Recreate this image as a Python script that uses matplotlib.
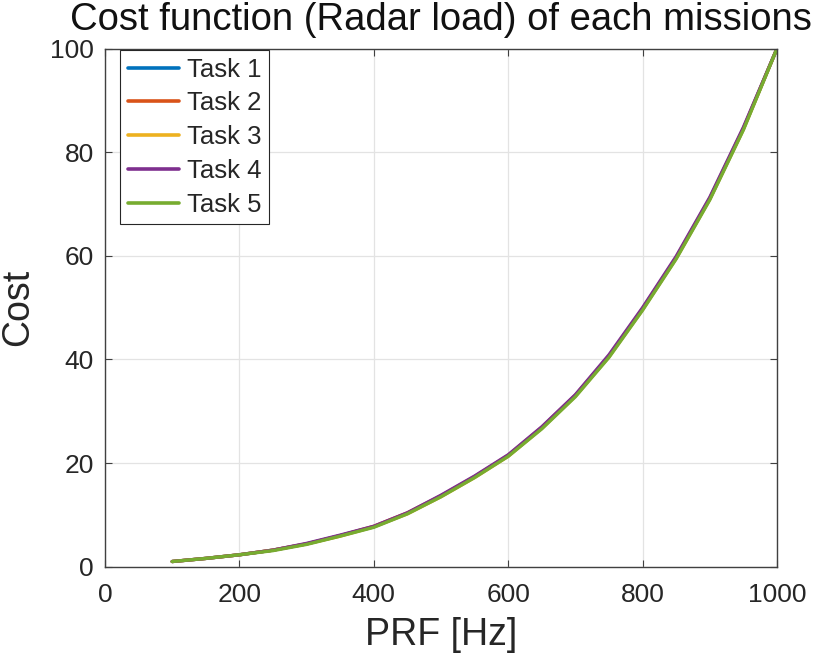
import matplotlib
matplotlib.use("Agg")
import matplotlib.pyplot as plt

plt.rcParams['font.family'] = ['Liberation Sans', 'DejaVu Sans']

prf = [100, 150, 200, 250, 300, 350, 400, 450, 500, 550, 600, 650, 700, 750, 800, 850, 900, 950, 1000]
task1 = [1.0, 1.6, 2.3, 3.2, 4.4, 6.0, 7.7, 10.3, 13.6, 17.3, 21.4, 26.8, 33.0, 40.6, 49.7, 59.6, 71.0, 84.5, 100.0]
task2 = [1.0, 1.6, 2.3, 3.2, 4.4, 6.0, 7.8, 10.4, 13.7, 17.4, 21.5, 26.9, 33.1, 40.7, 49.8, 59.7, 71.1, 84.6, 100.0]
task3 = [1.0, 1.6, 2.3, 3.2, 4.4, 5.9, 7.7, 10.2, 13.5, 17.2, 21.3, 26.7, 32.9, 40.5, 49.6, 59.5, 70.9, 84.4, 100.0]
task4 = [1.0, 1.6, 2.3, 3.2, 4.5, 6.1, 7.8, 10.4, 13.8, 17.5, 21.6, 27.0, 33.2, 40.9, 50.0, 59.9, 71.3, 84.8, 100.0]
task5 = [1.0, 1.6, 2.3, 3.1, 4.3, 5.9, 7.6, 10.2, 13.5, 17.2, 21.3, 26.6, 32.8, 40.4, 49.5, 59.4, 70.8, 84.3, 100.0]
labels = ["Task 1", "Task 2", "Task 3", "Task 4", "Task 5"]
colors = ["#0072BD", "#D95319", "#EDB120", "#7E2F8E", "#77AC30"]
xticks = [0, 200, 400, 600, 800, 1000]
yticks = [0, 20, 40, 60, 80, 100]

W, H = 827, 659
fig = plt.figure(figsize=(W / 100, H / 100), dpi=100)
ax = fig.add_axes([105 / W, 1 - 566.7 / H, 672 / W, 518.2 / H])

for ys, lab, c in zip([task1, task2, task3, task4, task5], labels, colors):
    ax.plot(prf, ys, color=c, lw=2.4, label=lab, solid_capstyle='round', solid_joinstyle='round')

ax.set_xlim(0, 1000)
ax.set_ylim(0, 100)
ax.set_xticks(xticks)
ax.set_yticks(yticks)
ax.grid(True, color='#e3e3e3', lw=0.9)
ax.set_axisbelow(True)
for s in ax.spines.values():
    s.set_color('#404040')
    s.set_linewidth(1.0)
ax.tick_params(direction='in', length=5, width=0.8, color='#404040',
               top=True, right=True, labelsize=19, labelcolor='#262626')
ax.tick_params(axis='x', pad=12)
ax.tick_params(axis='y', pad=8)

ax.set_title("Cost function (Radar load) of each missions", fontsize=27.5, color='#111111', pad=13)
ax.set_xlabel("PRF [Hz]", fontsize=27, color='#262626', labelpad=7)
ax.set_ylabel("Cost", fontsize=27, color='#262626', labelpad=10)

leg = ax.legend(loc='upper left', bbox_to_anchor=(15 / 672, 1 - 1.5 / 518.2),
                fontsize=18.5, frameon=True, fancybox=False, borderaxespad=0,
                handlelength=2.0, handletextpad=0.3, labelspacing=0.38,
                borderpad=0.3, framealpha=1)
leg.get_frame().set_edgecolor('#262626')
leg.get_frame().set_linewidth(0.8)
for line in leg.get_lines():
    line.set_linewidth(2.6)
for t in leg.get_texts():
    t.set_color('#262626')

fig.savefig("out.png", dpi=100)
